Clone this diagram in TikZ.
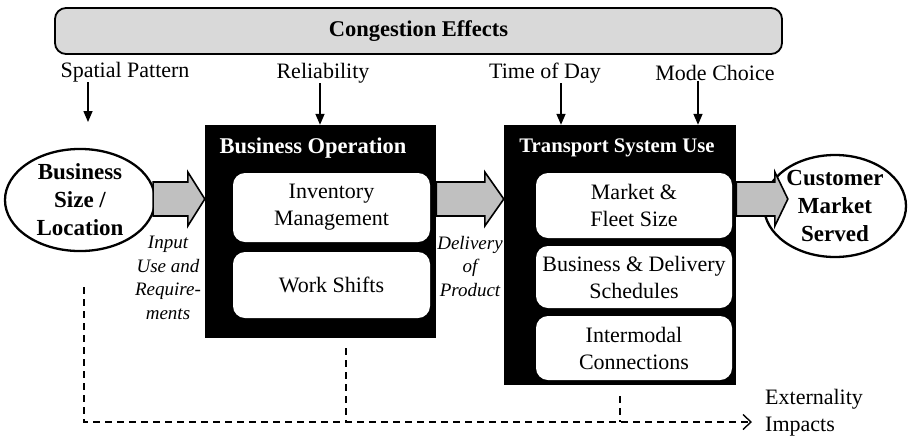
\documentclass[tikz,border=0pt]{standalone}
\usepackage{fontspec}
\setmainfont{Liberation Serif}
\usetikzlibrary{calc,arrows.meta,shapes.geometric}
\definecolor{bannergray}{HTML}{D9D9D9}
\definecolor{arrowgray}{HTML}{C0C0C0}
\tikzset{
  txt/.style={font=\fontsize{22}{27}\selectfont, align=center, inner sep=0pt},
  ital/.style={font=\fontsize{19}{23.5}\selectfont\itshape, align=center, inner sep=0pt},
  banner/.style={draw=black, line width=1.8pt, fill=bannergray, rounded corners=11pt, inner sep=0pt,
     font=\fontsize{22.5}{26}\selectfont\bfseries},
  blackbox/.style={fill=black, draw=none, inner sep=0pt},
  innerbox/.style={fill=white, draw=none, rounded corners=12pt, inner sep=0pt,
     font=\fontsize{22}{27}\selectfont, align=center},
  boxtitle/.style={text=white, inner sep=0pt, font=\fontsize{22.5}{26}\selectfont\bfseries},
  oval/.style={ellipse, draw=black, line width=2.3pt, fill=white, inner sep=0pt,
     font=\fontsize{23}{28}\selectfont\bfseries, align=center},
  downarr/.style={line width=1.5pt, -{Triangle[length=11pt,width=9pt]}},
  barrow/.style={draw=black, line width=1.6pt, fill=arrowgray, line join=miter},
  dashline/.style={line width=1.3pt, dash pattern=on 7pt off 5pt},
}
\newcommand\blockarr[3]{%
  \draw[barrow] let \p1=(#1), \p2=(#2) in
    (\x1,\y1+17pt) -- (\x2-#3,\y1+17pt) -- (\x2-#3,\y1+27pt) -- (\x2,\y1)
    -- (\x2-#3,\y1-27pt) -- (\x2-#3,\y1-17pt) -- (\x1,\y1-17pt) -- cycle;}
\begin{document}
\begin{tikzpicture}[x=1pt,y=-1pt]
\useasboundingbox (0,0) rectangle (908,440);

% banner
\node[banner, minimum width=727pt, minimum height=46pt] (ce) at (418.5,31) {Congestion Effects};

% top labels
\node[txt] (sp) at (125,72) {Spatial Pattern};
\node[txt] (re) at (323,73) {Reliability};
\node[txt] (td) at (545,73) {Time of Day};
\node[txt] (mc) at (715,73) {Mode Choice};

% ovals
\node[oval, minimum width=150pt, minimum height=100pt] (L) at (80,200) {Business\\Size /\\Location};
\node[oval, minimum width=142pt, minimum height=102pt] (R) at (835,206) {Customer\\Market\\Served};

% black boxes
\node[blackbox, minimum width=231pt, minimum height=213pt] (bo) at (320.5,231.5) {};
\node[boxtitle] (bot) at (313,148) {Business Operation};
\node[innerbox, minimum width=197pt, minimum height=69pt] (inv) at (331.5,207.5) {Inventory\\Management};
\node[innerbox, minimum width=197pt, minimum height=66pt] (ws) at (331.5,285) {Work Shifts};

\node[blackbox, minimum width=232pt, minimum height=260pt] (tsu) at (620,255) {};
\node[boxtitle, font=\fontsize{20.7}{24}\selectfont\bfseries] (tsut) at (617,148) {Transport System Use};
\node[innerbox, minimum width=196pt, minimum height=65pt] (mf) at (634,205.5) {Market \&\\Fleet Size};
\node[innerbox, minimum width=196pt, minimum height=62pt] (bd) at (634,277) {Business \& Delivery\\Schedules};
\node[innerbox, minimum width=196pt, minimum height=64pt] (ic) at (634,348) {Intermodal\\Connections};

% downward arrows
\draw[downarr] (sp.south -| 88,0) -- (88,122);
\draw[downarr] (re.south -| 320,0) -- (320,0 |- bo.north);
\draw[downarr] (td.south -| 561,0) -- (561,0 |- tsu.north);
\draw[downarr] (mc.south -| 698,0) -- (698,0 |- tsu.north);

% block arrows
\coordinate (ay) at (0,199);
\blockarr{$(L.east |- ay)+(-3,0)$}{bo.west |- ay}{17pt}
\blockarr{bo.east |- ay}{tsu.west |- ay}{19pt}
\blockarr{tsu.east |- ay}{$(R.west |- ay)+(25,0)$}{13pt}

% italic labels
\node[ital] (iu) at (168,278) {Input\\Use and\\Require-\\ments};
\node[ital] (dp) at (470,266.5) {Delivery\\of\\Product};

% externality
\node[txt, align=left, anchor=west] (ei) at (765,412.5) {Externality\\Impacts};
\coordinate (d1) at (84,287);
\coordinate (d2) at (346,348);
\coordinate (d3) at (620,396);
\coordinate (e) at (752,422);
\draw[dashline, -{Straight Barb[length=8pt,width=15pt,line width=1.4pt]}] (d1) |- (e);
\draw[dashline] (d2) -- (d2 |- e);
\draw[dashline] (d3) -- (d3 |- e);
\end{tikzpicture}
\end{document}
